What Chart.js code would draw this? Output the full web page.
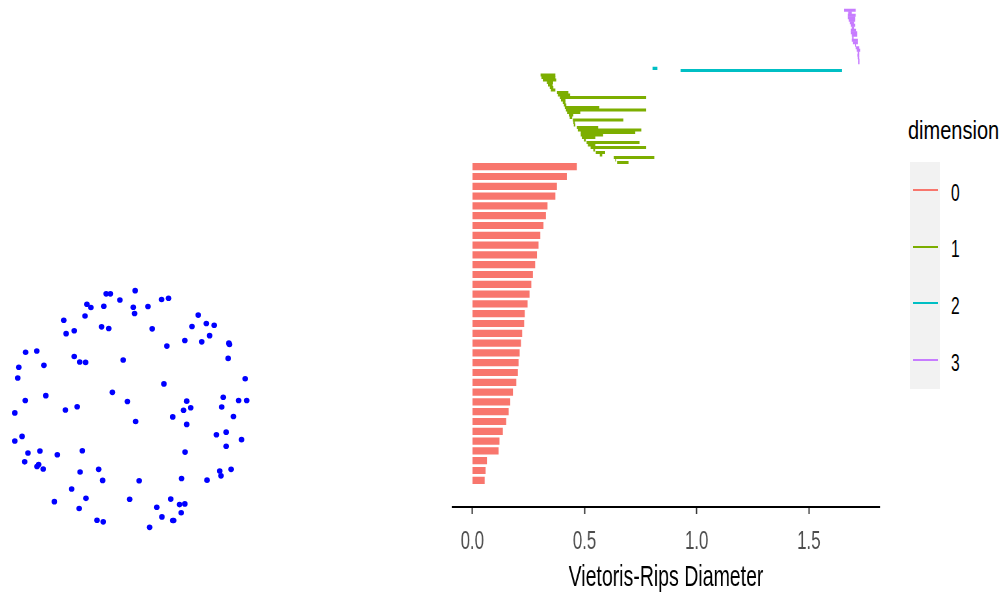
<!DOCTYPE html>
<html>
<head>
<meta charset="utf-8">
<title>Point cloud and persistence barcode</title>
<script src="https://cdn.jsdelivr.net/npm/chart.js@4.4.1/dist/chart.umd.min.js"></script>
<style>
  html, body { margin: 0; padding: 0; background: #ffffff; }
  body { width: 1002px; height: 602px; position: relative; overflow: hidden;
         font-family: 'Liberation Sans', Arial, sans-serif; }
  #cloudBox { position: absolute; left: 0; top: 280px; width: 260px; height: 260px; }
  #barBox { position: absolute; left: 440px; top: 0; width: 450px; height: 600px; }
  #legend { position: absolute; left: 908px; top: 0; width: 94px; height: 400px; }
  .lg-title { position: absolute; left: 0; top: 115px; font-size: 25px; line-height: 30px;
              white-space: nowrap; color: #000; transform: scaleX(0.8); transform-origin: 0 0; }
  .lg-keys { position: absolute; left: 2px; top: 161.5px; width: 30px; background: #f2f2f2; }
  .lg-key { position: relative; height: 56.8px; }
  .lg-key .sw { position: absolute; left: 3px; top: 27.4px; width: 25px; height: 2px; }
  .lg-key .tx { position: absolute; left: 41px; top: 3px; height: 56.8px; line-height: 56.8px;
                font-size: 24px; color: #000; white-space: nowrap;
                transform: scaleX(0.65); transform-origin: 0 0; }
</style>
</head>
<body>
<div id="cloudBox"><canvas id="cloud" width="260" height="260"></canvas></div>
<div id="barBox"><canvas id="barcode" width="692" height="600" style="width:450px;height:600px"></canvas></div>
<div id="legend"></div>

<script>
// ---- point cloud (x, y) ----
const cloudX = [0.044, -0.203, -0.167, -0.086, 0.269, 0.328, -0.367, -0.333, -0.223, 0.028,
  0.153, 0.039, -0.383, -0.564, 0.581, -0.242, -0.181, 0.189, 0.528, 0.650,
  0.717, -0.544, -0.475, 0.467, 0.678, 0.611, 0.842, 0.847, 0.314, -0.889,
  -0.794, -0.475, -0.428, -0.378, -0.058, -0.733, -0.947, 0.836, -0.956, 0.981,
  0.289, -0.150, -0.717, -0.892, -0.022, 0.483, 0.794, 0.925, 0.994, -0.450,
  -0.550, 0.456, 0.517, 0.781, -0.981, 0.364, 0.881, 0.048, 0.483, 0.819,
  0.736, -0.919, -0.981, 0.950, 0.819, -0.869, -0.767, -0.619, -0.406, 0.469,
  -0.897, -0.778, -0.792, -0.739, -0.425, -0.267, 0.764, 0.775, 0.861, -0.233,
  0.078, 0.439, 0.656, -0.497, -0.375, -0.003, 0.347, -0.644, -0.433, 0.228,
  0.422, 0.467, 0.436, 0.272, 0.364, 0.372, -0.281, -0.228, 0.167];
const cloudY = [0.933, 0.906, 0.906, 0.853, 0.858, 0.869, 0.817, 0.789, 0.800, 0.792,
  0.798, 0.739, 0.717, 0.681, 0.725, 0.625, 0.611, 0.608, 0.628, 0.653,
  0.639, 0.567, 0.592, 0.508, 0.550, 0.497, 0.486, 0.475, 0.461, 0.408,
  0.419, 0.372, 0.325, 0.322, 0.342, 0.297, 0.281, 0.356, 0.189, 0.183,
  0.139, 0.067, 0.039, -0.003, -0.011, -0.008, 0.025, -0.003, -0.003, -0.056,
  -0.083, -0.086, -0.064, -0.058, -0.108, -0.142, -0.139, -0.181, -0.206, -0.272,
  -0.294, -0.308, -0.347, -0.336, -0.392, -0.450, -0.433, -0.464, -0.431, -0.442,
  -0.525, -0.547, -0.564, -0.586, -0.611, -0.589, -0.603, -0.644, -0.589, -0.683,
  -0.686, -0.667, -0.681, -0.756, -0.836, -0.844, -0.842, -0.864, -0.922, -0.911,
  -0.889, -0.883, -0.958, -0.994, -1.025, -1.025, -1.022, -1.036, -1.083];

// ---- persistence barcode: birth / death diameters per homology dimension ----
const dimensionNames = ['0', '1', '2', '3'];
const dimensionColors = ['#F8766D', '#7CAE00', '#00BFC4', '#C77CFF'];

const dim0Births = [0, 0, 0, 0, 0, 0, 0, 0, 0, 0, 0, 0, 0, 0, 0, 0, 0,
  0, 0, 0, 0, 0, 0, 0, 0, 0, 0, 0, 0, 0, 0, 0, 0];
const dim0Deaths = [0.465, 0.420, 0.376, 0.369, 0.334, 0.327, 0.316, 0.302, 0.294, 0.287,
  0.279, 0.269, 0.262, 0.254, 0.245, 0.233, 0.230, 0.221, 0.216, 0.210,
  0.205, 0.202, 0.195, 0.180, 0.168, 0.161, 0.150, 0.135, 0.120, 0.116,
  0.064, 0.058, 0.054];

const dim1Births = [0.305, 0.309, 0.315, 0.333, 0.338, 0.346, 0.351, 0.378, 0.382, 0.391,
  0.396, 0.404, 0.409, 0.413, 0.418, 0.423, 0.431, 0.435, 0.449, 0.451,
  0.453, 0.467, 0.471, 0.484, 0.484, 0.489, 0.498, 0.510, 0.516, 0.528,
  0.540, 0.551, 0.569, 0.631, 0.638, 0.646];
const dim1Deaths = [0.369, 0.369, 0.373, 0.359, 0.357, 0.360, 0.369, 0.427, 0.435, 0.774,
  0.414, 0.414, 0.418, 0.565, 0.774, 0.480, 0.449, 0.444, 0.672, 0.456,
  0.458, 0.560, 0.752, 0.725, 0.582, 0.547, 0.505, 0.744, 0.547, 0.774,
  0.546, 0.591, 0.578, 0.810, 0.640, 0.695];

const dim2Births = [0.804, 0.929];
const dim2Deaths = [0.824, 1.646];

const dim3Births = [1.657, 1.676, 1.674, 1.674, 1.679, 1.683, 1.688, 1.692, 1.688, 1.688,
  1.692, 1.694, 1.692, 1.697, 1.706, 1.710, 1.714, 1.719, 1.717, 1.719,
  1.721, 1.721];
const dim3Deaths = [1.708, 1.690, 1.708, 1.705, 1.705, 1.701, 1.705, 1.701, 1.710, 1.714,
  1.714, 1.698, 1.718, 1.718, 1.710, 1.723, 1.728, 1.723, 1.723, 1.723,
  1.725, 1.725];

const tickValues = [0, 0.5, 1.0, 1.5];
const tickLabels = ['0.0', '0.5', '1.0', '1.5'];
const axisTitle = 'Vietoris-Rips Diameter';
const legendTitle = 'dimension';

// ---- layout of the bar rows (vertical scale runs 0..507, top to bottom) ----
const rowLayout = [
  { first: 166.7, step: 9.8, thickness: 6.5 },
  { first: 75.0,  step: 2.5, thickness: 2.4 },
  { first: 68.3,  step: 2.2, thickness: 2.5 },
  { first: 10.3,  step: 2.5, thickness: 2.4 }
];

Chart.defaults.font.family = "'Liberation Sans', Arial, sans-serif";

// ---- point cloud ----
new Chart(document.getElementById('cloud'), {
  type: 'scatter',
  data: {
    datasets: [{
      data: cloudX.map((x, i) => ({ x: x, y: cloudY[i] })),
      backgroundColor: '#0000FF',
      borderWidth: 0,
      pointRadius: 2.8,
      pointHoverRadius: 2.8
    }]
  },
  options: {
    responsive: false, animation: false, devicePixelRatio: 1,
    layout: { padding: 0 },
    plugins: { legend: { display: false }, tooltip: { enabled: false } },
    scales: {
      x: { type: 'linear', display: false, min: -1.0833, max: 1.0833 },
      y: { type: 'linear', display: false, min: -1.1667, max: 1.0 }
    }
  }
});

// ---- barcode ----
const births = [dim0Births, dim1Births, dim2Births, dim3Births];
const deaths = [dim0Deaths, dim1Deaths, dim2Deaths, dim3Deaths];

const datasets = births.map((b, d) => ({
  label: dimensionNames[d],
  data: b.map((v, i) => ({ x: [v, deaths[d][i]], y: rowLayout[d].first + i * rowLayout[d].step })),
  backgroundColor: dimensionColors[d],
  borderWidth: 0,
  barThickness: rowLayout[d].thickness,
  grouped: false
}));

const barcode = new Chart(document.getElementById('barcode'), {
  type: 'bar',
  data: { datasets: datasets },
  options: {
    indexAxis: 'y',
    responsive: false, animation: false, devicePixelRatio: 1,
    layout: { padding: { left: 18.5, right: 15.4, top: 0, bottom: 0 } },
    plugins: { legend: { display: false }, tooltip: { enabled: false } },
    scales: {
      y: { type: 'linear', display: false, reverse: true, offset: false, min: 0, max: 507 },
      x: {
        type: 'linear', position: 'bottom', min: -0.0905, max: 1.817, offset: false,
        afterBuildTicks: (s) => { s.ticks = tickValues.map(v => ({ value: v })); },
        afterFit: (s) => { s.height = 93; },
        ticks: {
          callback: (v, i) => tickLabels[i],
          color: '#4d4d4d', font: { size: 26 }, padding: 12,
          maxRotation: 0, autoSkip: false
        },
        grid: { drawOnChartArea: false, drawTicks: true, tickLength: 7, tickColor: '#333333', tickWidth: 2 },
        border: { display: true, color: '#000000', width: 2 },
        title: { display: true, text: axisTitle, color: '#000000', font: { size: 30 },
                 padding: { top: 0, bottom: 4 } }
      }
    }
  }
});

// ---- legend built from the barcode datasets ----
(function buildLegend(chart) {
  const box = document.getElementById('legend');
  const title = document.createElement('div');
  title.className = 'lg-title';
  title.textContent = legendTitle;
  box.appendChild(title);
  const keys = document.createElement('div');
  keys.className = 'lg-keys';
  chart.data.datasets.forEach(ds => {
    const row = document.createElement('div');
    row.className = 'lg-key';
    const sw = document.createElement('div');
    sw.className = 'sw';
    sw.style.background = ds.backgroundColor;
    const tx = document.createElement('div');
    tx.className = 'tx';
    tx.textContent = ds.label;
    row.appendChild(sw);
    row.appendChild(tx);
    keys.appendChild(row);
  });
  box.appendChild(keys);
})(barcode);
</script>
</body>
</html>
